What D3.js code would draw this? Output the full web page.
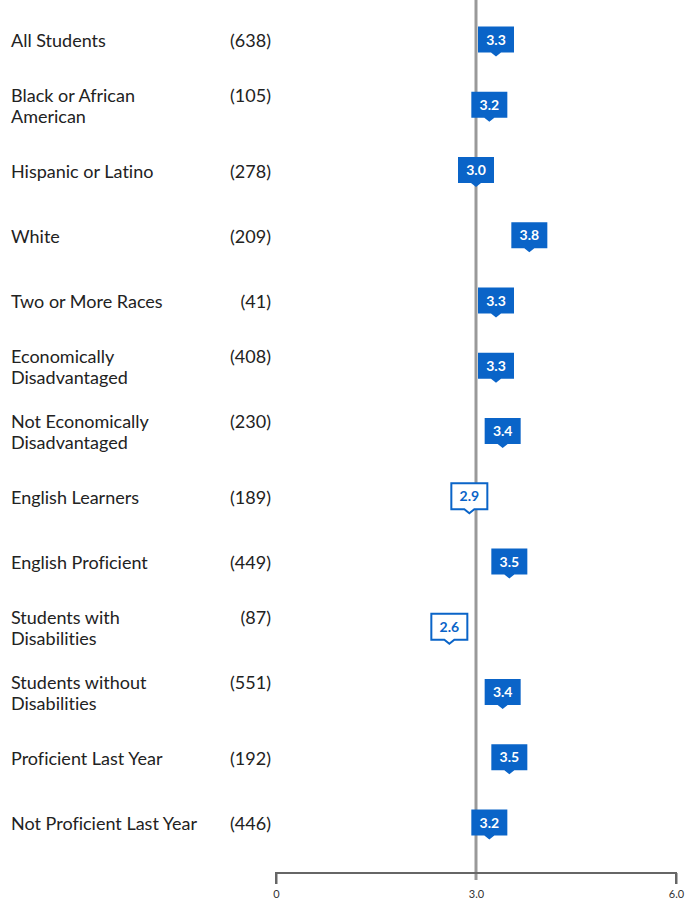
<!DOCTYPE html>
<html>
<head>
<meta charset="utf-8">
<script src="https://cdn.jsdelivr.net/npm/d3@7"></script>
<style>
  body { margin: 0; background: #fff; }
  text { font-family: Lato, "Open Sans", sans-serif; font-variant-ligatures: none; }
</style>
</head>
<body>
<div id="chart"></div>
<script>
// Groups (line breaks as in the original layout)
const groups = [
    'All Students', 'Black or African\nAmerican', 'Hispanic or Latino', 'White',
    'Two or More Races', 'Economically\nDisadvantaged', 'Not Economically\nDisadvantaged',
    'English Learners', 'English Proficient', 'Students with\nDisabilities',
    'Students without\nDisabilities', 'Proficient Last Year', 'Not Proficient Last Year'
];
const counts = [638, 105, 278, 209, 41, 408, 230, 189, 449, 87, 551, 192, 446];
const scores = [3.3, 3.2, 3.0, 3.8, 3.3, 3.3, 3.4, 2.9, 3.5, 2.6, 3.4, 3.5, 3.2];
// outlined markers
const outlined = [false, false, false, false, false, false, false, true, false, true, false, false, false];
const tickValues = [0, 3, 6];
const tickLabels = ['0', '3.0', '6.0'];
const refValue = 3.0;

const width = 697, height = 903;
const blue = '#0a64c8';

const svg = d3.select('#chart').append('svg')
    .attr('width', width)
    .attr('height', height);

const x = d3.scaleLinear().domain([0, 6]).range([276, 676]);
const y = d3.scalePoint().domain(d3.range(groups.length)).range([41, 824]);
const axisY = 873;

// reference line at 3.0
svg.append('line')
    .attr('x1', x(refValue)).attr('x2', x(refValue))
    .attr('y1', 0).attr('y2', 880)
    .attr('stroke', '#999').attr('stroke-width', 3);

// bottom axis
const axis = svg.append('g')
    .attr('transform', `translate(0,${axisY})`)
    .call(d3.axisBottom(x).tickValues(tickValues).tickSize(11).tickPadding(6)
        .tickFormat((d, i) => tickLabels[i]));
axis.select('.domain').attr('stroke', '#666').attr('stroke-width', 2)
    .attr('d', `M${x(0)},11V0H${x(6)}V11`);
axis.selectAll('.tick line').attr('stroke', '#666').attr('stroke-width', 2)
    .filter(d => d === refValue).remove();
axis.selectAll('.tick text')
    .attr('fill', '#333').style('font-size', '11px')
    .style('font-family', 'Lato, sans-serif');

// row labels
const rows = svg.selectAll('.row')
    .data(groups)
    .enter().append('g')
    .attr('class', 'row');

rows.each(function(g, i) {
    const lines = g.split('\n');
    const cy = y(i);
    const top = lines.length > 1 ? cy - 11 : cy;
    const t = d3.select(this).append('text')
        .attr('x', 11)
        .attr('fill', '#222')
        .style('font-size', '18px');
    lines.forEach((ln, j) => {
        t.append('tspan')
            .attr('x', 11)
            .attr('y', top + j * 21)
            .attr('dy', '0.35em')
            .text(ln);
    });
    d3.select(this).append('text')
        .attr('x', 271)
        .attr('y', top)
        .attr('dy', '0.35em')
        .attr('text-anchor', 'end')
        .attr('fill', '#222')
        .style('font-size', '18px')
        .text(`(${counts[i]})`);
});

// markers
const bw = 36, bh = 26, tri = 4;
const markers = svg.selectAll('.marker')
    .data(scores)
    .enter().append('g')
    .attr('class', 'marker')
    .attr('transform', (d, i) => `translate(${x(d)},${y(i) - 1.5})`);

markers.append('path')
    .attr('d', `M${-bw / 2},${-bh / 2}H${bw / 2}V${bh / 2}H5L0,${bh / 2 + tri}L-5,${bh / 2}H${-bw / 2}Z`)
    .attr('fill', (d, i) => outlined[i] ? '#fff' : blue)
    .attr('stroke', (d, i) => outlined[i] ? blue : 'none')
    .attr('stroke-width', 2);

markers.append('text')
    .attr('text-anchor', 'middle')
    .attr('dy', '0.36em')
    .attr('fill', (d, i) => outlined[i] ? blue : '#fff')
    .style('font-size', '14px')
    .style('font-weight', 'bold')
    .text(d => d3.format('.1f')(d));
</script>
</body>
</html>
